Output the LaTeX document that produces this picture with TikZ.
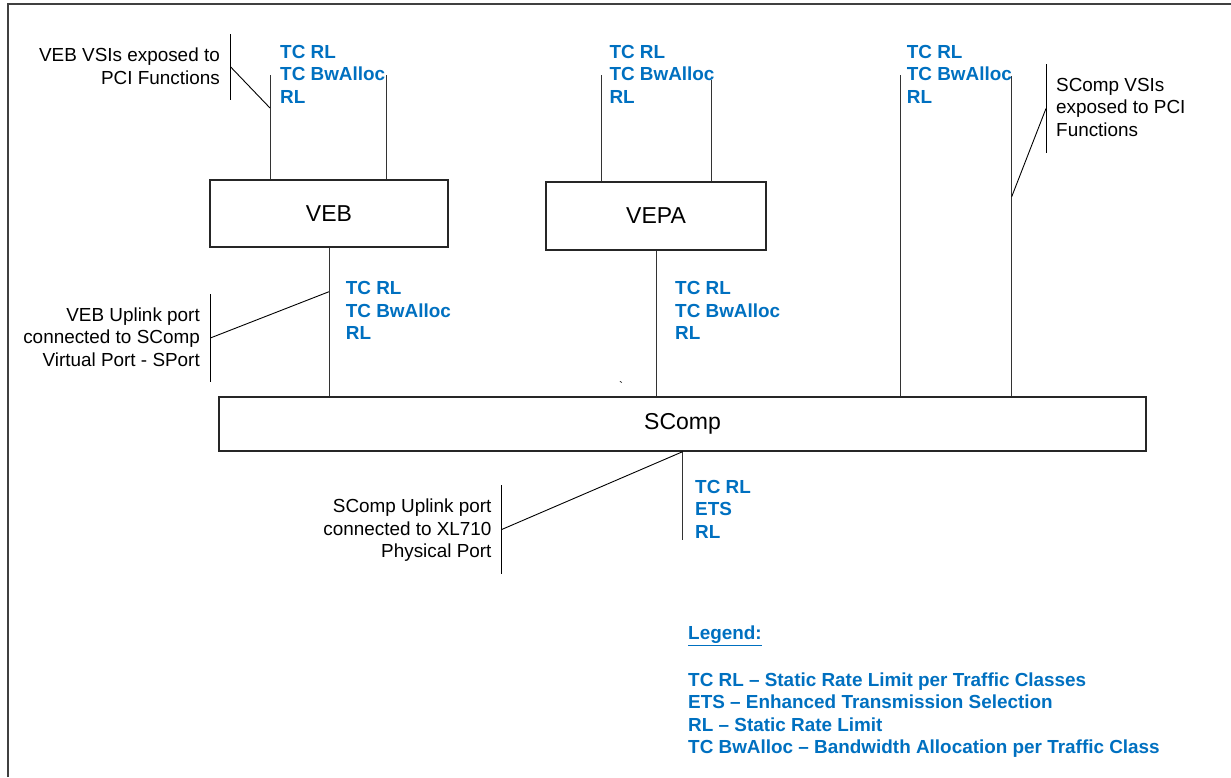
\documentclass[tikz,border=0pt]{standalone}
\usepackage{fontspec}
\setmainfont{Liberation Sans}
\usepackage{xcolor}
\usetikzlibrary{positioning, calc}
\definecolor{tcblue}{HTML}{0070C0}
\definecolor{framegray}{HTML}{404040}
\tikzstyle{boxnode} = [draw, rectangle, line width=1.3pt, draw=black!85, inner sep=0pt, font=\fontsize{23}{27}\selectfont]
\tikzstyle{tcnode} = [anchor=north west, inner sep=0pt, align=left, text=tcblue, font=\fontsize{18.9}{22.5}\selectfont\bfseries]
\tikzstyle{notenode} = [inner sep=0pt, font=\fontsize{18.9}{22.5}\selectfont]
\tikzstyle{portline} = [line width=1pt, draw=black!80]
\tikzstyle{noteline} = [line width=0.9pt, draw=black]

\begin{document}
\begin{tikzpicture}[x=1pt, y=-1pt]
    \useasboundingbox (0,0) rectangle (1231,777);
    \draw [line width=1.5pt, draw=framegray] (8,777) -- (8,4) -- (1231,4);

    \node (veb) [boxnode, minimum width=238pt, minimum height=67pt] at (329,213.5) {VEB};
    \node (vepa) [boxnode, minimum width=220pt, minimum height=68pt] at (656,216) {VEPA};
    \node (scomp) [boxnode, minimum width=927pt, minimum height=54pt] at (682.5,424) {SComp};

    \coordinate (vebp1) at (270,75);
    \coordinate (vebp2) at (386.7,75);
    \coordinate (vepap1) at (601.3,75);
    \coordinate (vepap2) at (711.3,80);
    \coordinate (scp1) at (900.7,75);
    \coordinate (scp2) at (1011.7,76);
    \coordinate (uplink) at (682.7,540);

    \draw [portline] (vebp1) -- (vebp1 |- veb.north);
    \draw [portline] (vebp2) -- (vebp2 |- veb.north);
    \draw [portline] (vepap1) -- (vepap1 |- vepa.north);
    \draw [portline] (vepap2) -- (vepap2 |- vepa.north);
    \draw [portline] (veb.south) -- (veb.south |- scomp.north);
    \draw [portline] (vepa.south) -- (vepa.south |- scomp.north);
    \draw [portline] (scp1) -- (scp1 |- scomp.north);
    \draw [portline] (scp2) -- (scp2 |- scomp.north);
    \draw [portline] (uplink |- scomp.south) -- (uplink);

    \node (vebtc) [tcnode] at (280,44.8) {TC RL\\TC BwAlloc\\RL};
    \node (vepatc) [tcnode] at (609.3,44.8) {TC RL\\TC BwAlloc\\RL};
    \node (sctc) [tcnode] at (906.7,44.8) {TC RL\\TC BwAlloc\\RL};
    \node (vebuptc) [tcnode] at (345.7,281.5) {TC RL\\TC BwAlloc\\RL};
    \node (vepauptc) [tcnode] at (675,281.5) {TC RL\\TC BwAlloc\\RL};
    \node (scuptc) [tcnode] at (695,479.8) {TC RL\\ETS\\RL};

    % Callouts
    \node (vebvsi) [notenode, anchor=north east, align=right] at (220,48) {VEB VSIs exposed to\\PCI Functions};
    \coordinate (vebvsia) at (230.7,34);
    \coordinate (vebvsib) at (230.7,100);
    \coordinate (vebvsic) at (270,108);
    \draw [noteline] (vebvsia) -- (vebvsib);
    \draw [noteline] ($(vebvsia)!0.5!(vebvsib)$) -- (vebvsic);

    \node (vebup) [notenode, anchor=north east, align=right] at (200,307.3) {VEB Uplink port\\connected to SComp\\Virtual Port - SPort};
    \coordinate (vebupa) at (210.7,294);
    \coordinate (vebupb) at (210.7,381.7);
    \coordinate (vebupc) at (329,291.7);
    \draw [noteline] (vebupa) -- (vebupb);
    \draw [noteline] ($(vebupa)!0.5!(vebupb)$) -- (vebupc);

    \node (scvsi) [notenode, anchor=north west, align=left] at (1056,78) {SComp VSIs\\exposed to PCI\\Functions};
    \coordinate (scvsia) at (1046,64.3);
    \coordinate (scvsib) at (1046,152.7);
    \coordinate (scvsic) at (1011.7,196.7);
    \draw [noteline] (scvsia) -- (scvsib);
    \draw [noteline] ($(scvsia)!0.5!(scvsib)$) -- (scvsic);

    \node (scup) [notenode, anchor=north east, align=right] at (491.7,499) {SComp Uplink port\\connected to XL710\\Physical Port};
    \coordinate (scupa) at (501.7,485);
    \coordinate (scupb) at (501.7,574);
    \draw [noteline] (scupa) -- (scupb);
    \draw [noteline] ($(scupa)!0.5!(scupb)$) -- (uplink |- scomp.south);

    \node (tick) [notenode, font=\fontsize{12}{12}\selectfont] at (621,386) {\textasciigrave};

    % Legend
    \node (legendhead) [tcnode] at (688,625.6) {\underline{Legend:}};
    \node (legend) [tcnode] at (688,672.5) {TC RL -- Static Rate Limit per Traffic Classes\\ETS -- Enhanced Transmission Selection\\RL -- Static Rate Limit\\TC BwAlloc -- Bandwidth Allocation per Traffic Class};
\end{tikzpicture}
\end{document}
